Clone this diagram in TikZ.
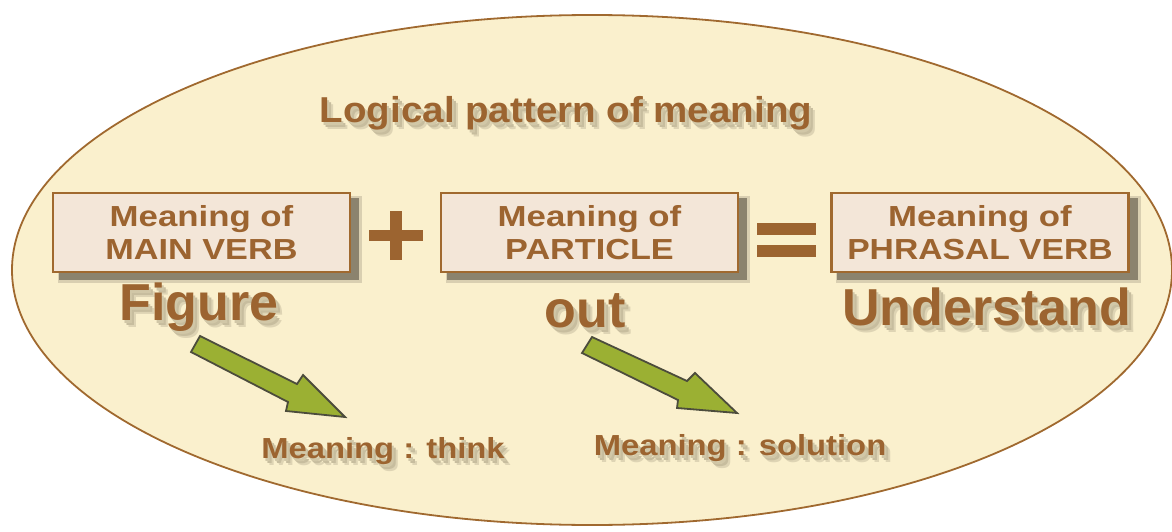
\documentclass[tikz,border=0pt]{standalone}
\usepackage{fontspec}
\setmainfont{Liberation Sans}
\usetikzlibrary{shapes.geometric,calc}
\definecolor{cream}{HTML}{FAF0CD}
\definecolor{brownline}{HTML}{A0692F}
\definecolor{browntext}{HTML}{9C6430}
\definecolor{boxfill}{HTML}{F3E6D8}
\definecolor{shadowgray}{HTML}{78705E}
\definecolor{txtshadow}{HTML}{9E9478}
\definecolor{arrowgreen}{HTML}{9BB033}
\definecolor{arrowedge}{HTML}{4C4C3C}
\newcommand{\hs}[2]{\scalebox{#1}[1]{#2}}
\tikzset{
  oval/.style={ellipse, draw=brownline, line width=1.8pt, fill=cream,
    minimum width=1160pt, minimum height=510pt, inner sep=0pt},
  pbox/.style={rectangle, draw=brownline, line width=2.5pt, fill=boxfill,
    minimum width=297pt, minimum height=79pt, inner sep=0pt, text=browntext,
    font=\fontsize{29}{33}\selectfont\bfseries, align=center},
  titlefont/.style={font=\fontsize{36}{40}\selectfont\bfseries},
  bigword/.style={font=\fontsize{52}{60}\selectfont\bfseries},
  meanfont/.style={font=\fontsize{29}{33}\selectfont\bfseries},
  opbar/.style={fill=browntext},
  garrow/.style={fill=arrowgreen, draw=arrowedge, line width=1.8pt, line join=miter},
}
% text with a soft drop shadow, drawn in one node
\newcommand{\shtxt}[5]{%
  \node[anchor=base, text=browntext, #4] (#1) at (#2,#3)
    {\rlap{\kern6pt\raisebox{-7pt}{\color{txtshadow!30!cream}#5}}%
     \rlap{\kern4pt\raisebox{-5pt}{\color{txtshadow!55!cream}#5}}%
     \rlap{\kern2pt\raisebox{-3pt}{\color{txtshadow!45!cream}#5}}#5};}
\newcommand{\boxshadow}[1]{%
  \fill[shadowgray, opacity=0.25] ($(#1.north west)+(6,4)$) rectangle ($(#1.south east)+(11,10)$);
  \fill[shadowgray, opacity=0.8] ($(#1.north west)+(7,6)$) rectangle ($(#1.south east)+(8,7)$);}
\begin{document}
\begin{tikzpicture}[x=1pt,y=-1pt]
\useasboundingbox (0,0) rectangle (1172,532);
\node[oval] (oval) at (592,270) {};
% title
\shtxt{title}{566}{123}{titlefont}{\hs{1.07}{Logical pattern of meaning}}
% boxes
\coordinate (c1) at (201.5,232.5);
\coordinate (c2) at (589.5,232.5);
\coordinate (c3) at (980,232.5);
\node[pbox, draw=none, fill=none] (s1) at (c1) {};
\node[pbox, draw=none, fill=none] (s2) at (c2) {};
\node[pbox, draw=none, fill=none] (s3) at (c3) {};
\boxshadow{s1}
\boxshadow{s2}
\boxshadow{s3}
\node[pbox] (b1) at (c1) {\hs{1.2}{Meaning of}\\\hs{1.18}{MAIN VERB}};
\node[pbox] (b2) at (c2) {\hs{1.2}{Meaning of}\\\hs{1.18}{PARTICLE}};
\node[pbox] (b3) at (c3) {\hs{1.2}{Meaning of}\\\hs{1.16}{PHRASAL VERB}};
% plus and equals
\fill[opbar] (369,230) rectangle (423,241);
\fill[opbar] (390,211) rectangle (402,260);
\fill[opbar] (757,223) rectangle (816,235);
\fill[opbar] (757,245) rectangle (816,257);
% big words
\shtxt{w1}{199}{320}{bigword}{Figure}
\shtxt{w2}{585}{327}{bigword}{out}
\shtxt{w3}{986.5}{325}{bigword}{Understand}
% arrows
\filldraw[garrow] (200,336) -- (297,384) -- (303,375) -- (345,417) -- (286,411) -- (288,402) -- (191,352) -- cycle;
\filldraw[garrow] (592,337) -- (687,381) -- (695,373) -- (737,413) -- (677,408) -- (678,400) -- (582,353) -- cycle;
% meanings
\shtxt{m1}{383}{458}{meanfont}{\hs{1.13}{Meaning : think}}
\shtxt{m2}{740}{455}{meanfont}{\hs{1.13}{Meaning : solution}}
\end{tikzpicture}
\end{document}
